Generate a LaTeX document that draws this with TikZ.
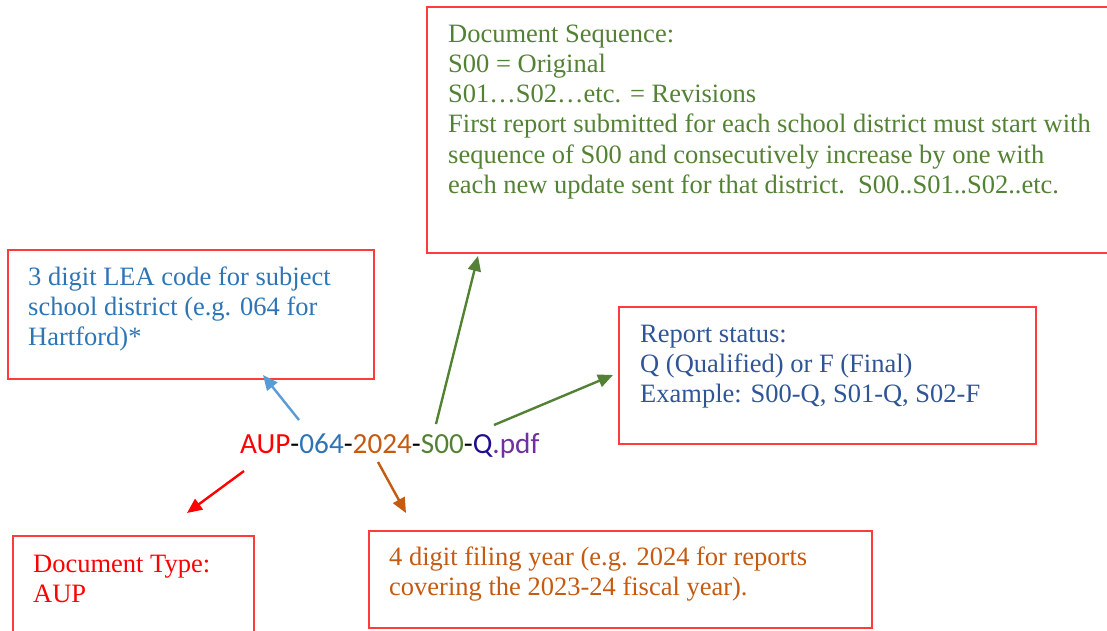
\documentclass[tikz,border=0pt]{standalone}
\usepackage{fontspec}
\setmainfont{Liberation Serif}
\newfontfamily\calibrifont{Carlito}
\usetikzlibrary{arrows.meta}
\definecolor{boxred}{HTML}{FF3B3B}
\definecolor{cRed}{HTML}{FF0000}
\definecolor{cBlue}{HTML}{2E75B6}
\definecolor{cLightBlue}{HTML}{5B9BD5}
\definecolor{cOrange}{HTML}{C55A11}
\definecolor{cGreen}{HTML}{548235}
\definecolor{cNavy}{HTML}{2F5597}
\definecolor{cQ}{HTML}{1F0F8F}
\definecolor{cPurple}{HTML}{7030A0}
\begin{document}
\begin{tikzpicture}[x=1pt,y=-1pt,
  box/.style={draw=boxred, line width=1.2pt},
  txt/.style={anchor=base west, align=left, inner sep=0pt, font=\fontsize{26.5}{30.3}\selectfont},
  arr/.style={line width=2.4pt, -{Triangle[length=15pt,width=13pt]}}]
\useasboundingbox (0,0) rectangle (1107,631);
\clip (0,0) rectangle (1107,631);
\fill[white] (0,0) rectangle (1107,631);

% boxes
\draw[box] (427,7) rectangle (1115,253);
\draw[box] (8,250) rectangle (374,379);
\draw[box] (619,307) rectangle (1036,444);
\draw[box] (13,536) rectangle (254,640);
\draw[box] (369,531) rectangle (872,628);

% texts (anchored at the baseline of the last line)
\node[txt, text=cGreen] (seqtxt) at (448,193.5)
  {Document Sequence:\\S00 = Original\\S01\ldots S02\ldots etc. = Revisions\\First report submitted for each school district must start with\\sequence of S00 and consecutively increase by one with\\each new update sent for that district.\ \ S00..S01..S02..etc.};
\node[txt, text=cBlue] (leatxt) at (28,345.6)
  {3 digit LEA code for subject\\school district (e.g. 064 for\\Hartford)*};
\node[txt, text=cNavy] (stattxt) at (640,402.6)
  {Report status:\\Q (Qualified) or F (Final)\\Example: S00-Q, S01-Q, S02-F};
\node[txt, text=cRed] (typetxt) at (33,602.3)
  {Document Type:\\AUP};
\node[txt, text=cOrange] (yeartxt) at (389,595.3)
  {4 digit filing year (e.g. 2024 for reports\\covering the 2023-24 fiscal year).};

% filename
\node[anchor=base west, inner sep=0pt, font=\calibrifont\fontsize{29.2}{34}\selectfont] (fname) at (240,453)
  {\textcolor{cRed}{AUP}-\textcolor{cBlue}{064}-\textcolor{cOrange}{2024}-\textcolor{cGreen}{S00}-\textcolor{cQ}{Q}\textcolor{cPurple}{.pdf}};

% arrow end points
\coordinate (blueS) at (299,420);
\coordinate (blueE) at (263,375);
\coordinate (gupS) at (436,424);
\coordinate (gupE) at (478,256);
\coordinate (grtS) at (494,425);
\coordinate (grtE) at (613,375);
\coordinate (redS) at (244,471);
\coordinate (redE) at (187,513);
\coordinate (orgS) at (378,462);
\coordinate (orgE) at (406,513);

\draw[arr, cLightBlue] (blueS) -- (blueE);
\draw[arr, cGreen] (gupS) -- (gupE);
\draw[arr, cGreen] (grtS) -- (grtE);
\draw[arr, cRed] (redS) -- (redE);
\draw[arr, cOrange] (orgS) -- (orgE);
\end{tikzpicture}
\end{document}
